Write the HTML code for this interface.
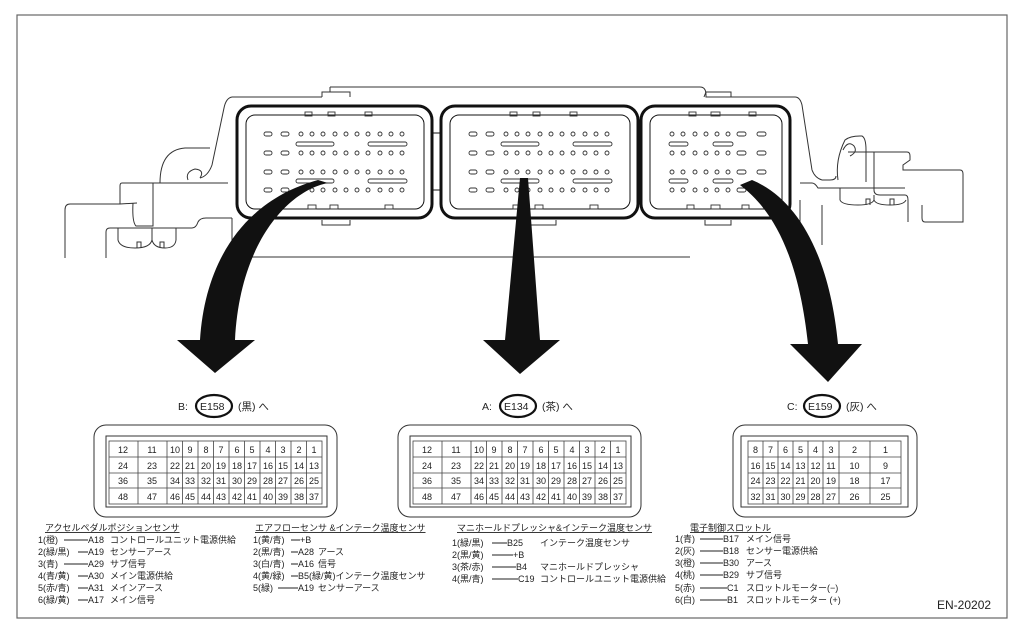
<!DOCTYPE html>
<html><head><meta charset="utf-8"><style>
html,body{margin:0;padding:0;background:#fff;}
svg{display:block}
text{font-family:"Liberation Sans","Noto Sans CJK JP",sans-serif;fill:#222}
</style></head><body>
<svg width="1024" height="630" viewBox="0 0 1024 630" xmlns="http://www.w3.org/2000/svg">
<defs>
<g id="pinrow">
<rect x="264" y="-2" width="8" height="4" rx="2"/><rect x="281" y="-2" width="8" height="4" rx="2"/>
<circle cx="301" cy="0" r="2"/><circle cx="312" cy="0" r="2"/><circle cx="323" cy="0" r="2"/><circle cx="335" cy="0" r="2"/><circle cx="346" cy="0" r="2"/><circle cx="357" cy="0" r="2"/><circle cx="368" cy="0" r="2"/><circle cx="380" cy="0" r="2"/><circle cx="391" cy="0" r="2"/><circle cx="402" cy="0" r="2"/>
</g>
<g id="rrow"><circle cx="672" cy="0" r="2"/><circle cx="683" cy="0" r="2"/><circle cx="695" cy="0" r="2"/><circle cx="706" cy="0" r="2"/><circle cx="717" cy="0" r="2"/><circle cx="728" cy="0" r="2"/><rect x="737" y="-2" width="9" height="4" rx="2"/><rect x="757" y="-2" width="9" height="4" rx="2"/></g>
<g id="connL">
<rect x="305" y="112" width="7" height="4"/><rect x="328" y="112" width="7" height="4"/><rect x="365" y="112" width="7" height="4"/>
<rect x="308" y="205" width="8" height="4"/><rect x="330" y="205" width="8" height="4"/><rect x="385" y="205" width="8" height="4"/>
<use href="#pinrow" y="134"/><use href="#pinrow" y="153"/><use href="#pinrow" y="172"/><use href="#pinrow" y="190"/>
<rect x="296" y="142" width="38" height="4" rx="2"/><rect x="368" y="142" width="39" height="4" rx="2"/>
<rect x="296" y="179" width="38" height="4" rx="2"/><rect x="368" y="179" width="39" height="4" rx="2"/>
</g>
</defs>
<rect x="17" y="15" width="990" height="603" fill="none" stroke="#666" stroke-width="1.2"/>
<g fill="none" stroke="#333" stroke-width="1">
<path d="M232 97 L322 97 M330 87 L700 87 Q706 87 706 95 L706 97 L795 97 Q800 97 802 105 L812 170 Q815 178 822 180"/>
<path d="M232 97 Q226 98 224 108 L212 165 Q208 176 200 178"/>
<path d="M245 257 L690 257 M232 218 L232 250 Q232 257 245 257"/>
<path d="M160 183 Q160 150 185 148 L210 148 M188 180 Q185 172 195 169 Q205 170 200 178"/>
<path d="M122 183 L228 183 M122 183 Q120 183 120 186 L120 204 L70 204 Q65 204 65 210 L65 258 M120 204 L137 203 M133 203 Q132 222 136 226 L153 226 L153 183"/>
<path d="M106 258 L106 232 Q106 228 110 228 L192 228 Q196 228 198 222 Q200 218 206 218 L232 218"/>
<path d="M118 228 L118 240 Q120 248 135 248 Q150 248 152 240 L152 228 M152 240 Q154 248 165 248 Q175 248 176 240 L176 228 M176 228 L176 240 M137 248 L137 242 L141 242 L141 248 M160 248 L160 242 L164 242 L164 248"/>
<path d="M822 180 L830 180 Q836 180 836 176 M838 180 Q835 160 845 140 Q850 136 860 136 L862 136 Q866 138 866 150 L866 182 M843 150 Q848 140 854 146 Q858 152 850 156"/>
<path d="M848 152 L874 152 L907 152 Q910 152 910 156 L910 160 L903 165 L903 170 L960 170 Q963 170 963 174 L963 222 L925 222 Q922 222 922 218 L922 205"/>
<path d="M874 152 L874 190 Q874 195 880 195 L905 195 Q908 195 908 200 L908 222 M800 183 L812 183 Q815 183 818 188 L905 188 M840 188 L840 200 Q842 205 858 205 Q872 205 874 200 L874 195 M874 200 Q876 205 890 205 Q904 205 906 200 M866 205 L866 199 L870 199 L870 205 M890 205 L890 199 L894 199 L894 205 M800 200 L800 230 Q800 240 790 245 L790 257 M822 205 L822 245"/>
<path d="M322 97 L322 92 L350 92 L350 97 M330 92 L330 87 M704 97 L706 92 L731 92 L731 97"/>
<path d="M322 220 L322 225 L350 225 L350 220 M530 220 L530 225 L556 225 L556 220 M705 220 L705 225 L731 225 L731 220"/>
</g>
<g fill="none" stroke="#111">
<rect x="237" y="106" width="195" height="112" rx="14" stroke-width="3"/>
<rect x="246" y="115" width="178" height="94" rx="9" stroke-width="1"/>
<rect x="441" y="106" width="197" height="112" rx="14" stroke-width="3"/>
<rect x="450" y="115" width="180" height="94" rx="9" stroke-width="1"/>
<rect x="641" y="106" width="149" height="112" rx="14" stroke-width="3"/>
<rect x="650" y="115" width="132" height="94" rx="9" stroke-width="1"/>
<path d="M432 133 L441 133 M432 190 L441 190 M638 133 L641 133 M638 190 L641 190" stroke-width="1"/>
</g>
<g fill="none" stroke="#333" stroke-width="0.9">
<use href="#connL"/>
<use href="#connL" x="205"/>
<rect x="689" y="112" width="7" height="4"/><rect x="711" y="112" width="9" height="4"/><rect x="749" y="112" width="7" height="4"/>
<rect x="687" y="205" width="7" height="4"/><rect x="711" y="205" width="9" height="4"/><rect x="742" y="205" width="7" height="4"/>
<use href="#rrow" y="134"/><use href="#rrow" y="153"/><use href="#rrow" y="172"/><use href="#rrow" y="190"/>
<rect x="669" y="142" width="19" height="4" rx="2"/><rect x="713" y="142" width="20" height="4" rx="2"/>
<rect x="669" y="179" width="19" height="4" rx="2"/><rect x="713" y="179" width="20" height="4" rx="2"/>
</g>
<g fill="#111">
<path d="M328 183 C290 190 240 240 235 340 L255 340 L215 373 L177 340 L200 340 C205 260 245 200 318 180 Z"/>
<path d="M528 178 L540 340 L560 340 L520 374 L483 340 L505 340 L520 178 Z"/>
<path d="M752 180 C800 200 830 260 838 344 L862 344 L828 382 L790 344 L808 344 C800 270 780 215 740 185 Z"/>
</g>
<g font-size="10.5">
<text x="178" y="410">B:</text><text x="200" y="410">E158</text><text x="238" y="410">(黒) へ</text>
<text x="482" y="410">A:</text><text x="504" y="410">E134</text><text x="542" y="410">(茶) へ</text>
<text x="787" y="410">C:</text><text x="808" y="410">E159</text><text x="846" y="410">(灰) へ</text>
</g>
<g fill="none" stroke="#111" stroke-width="2.2">
<ellipse cx="214" cy="406" rx="18" ry="11"/><ellipse cx="518" cy="406" rx="18" ry="11"/><ellipse cx="822" cy="406" rx="18" ry="11"/>
</g>
<g fill="none" stroke="#333" stroke-width="1">
<rect x="94" y="425" width="243" height="92" rx="12"/><rect x="106" y="436" width="221" height="71"/>
<rect x="398" y="425" width="243" height="92" rx="12"/><rect x="410" y="436" width="221" height="71"/>
<rect x="733" y="425" width="184" height="92" rx="12"/><rect x="741" y="436" width="167" height="71"/>
</g>
<g fill="none" stroke="#444" stroke-width="0.8">
<g id="grid48">
<rect x="109" y="441" width="213" height="63"/>
<path d="M109 457 H322 M109 473 H322 M109 488 H322 M138 441 V504 M167 441 V504 M182.5 441 V504 M198 441 V504 M213.5 441 V504 M229 441 V504 M244.5 441 V504 M260 441 V504 M275.5 441 V504 M291 441 V504 M306.5 441 V504"/>
</g>
<use href="#grid48" x="304"/>
<rect x="748" y="441" width="153" height="63"/>
<path d="M748 457 H901 M748 473 H901 M748 488 H901 M763 441 V504 M778 441 V504 M793 441 V504 M808 441 V504 M823 441 V504 M839 441 V504 M870 441 V504"/>
</g>
<g font-size="9" text-anchor="middle">
<g id="nums">
<text x="123" y="453">12</text><text x="152" y="453">11</text><text x="175" y="453">10</text><text x="190" y="453">9</text><text x="206" y="453">8</text><text x="221" y="453">7</text><text x="237" y="453">6</text><text x="252" y="453">5</text><text x="268" y="453">4</text><text x="283" y="453">3</text><text x="299" y="453">2</text><text x="314" y="453">1</text>
<text x="123" y="469">24</text><text x="152" y="469">23</text><text x="175" y="469">22</text><text x="190" y="469">21</text><text x="206" y="469">20</text><text x="221" y="469">19</text><text x="237" y="469">18</text><text x="252" y="469">17</text><text x="268" y="469">16</text><text x="283" y="469">15</text><text x="299" y="469">14</text><text x="314" y="469">13</text>
<text x="123" y="484">36</text><text x="152" y="484">35</text><text x="175" y="484">34</text><text x="190" y="484">33</text><text x="206" y="484">32</text><text x="221" y="484">31</text><text x="237" y="484">30</text><text x="252" y="484">29</text><text x="268" y="484">28</text><text x="283" y="484">27</text><text x="299" y="484">26</text><text x="314" y="484">25</text>
<text x="123" y="500">48</text><text x="152" y="500">47</text><text x="175" y="500">46</text><text x="190" y="500">45</text><text x="206" y="500">44</text><text x="221" y="500">43</text><text x="237" y="500">42</text><text x="252" y="500">41</text><text x="268" y="500">40</text><text x="283" y="500">39</text><text x="299" y="500">38</text><text x="314" y="500">37</text>
</g>
<g transform="translate(304,0)">
<text x="123" y="453">12</text><text x="152" y="453">11</text><text x="175" y="453">10</text><text x="190" y="453">9</text><text x="206" y="453">8</text><text x="221" y="453">7</text><text x="237" y="453">6</text><text x="252" y="453">5</text><text x="268" y="453">4</text><text x="283" y="453">3</text><text x="299" y="453">2</text><text x="314" y="453">1</text>
<text x="123" y="469">24</text><text x="152" y="469">23</text><text x="175" y="469">22</text><text x="190" y="469">21</text><text x="206" y="469">20</text><text x="221" y="469">19</text><text x="237" y="469">18</text><text x="252" y="469">17</text><text x="268" y="469">16</text><text x="283" y="469">15</text><text x="299" y="469">14</text><text x="314" y="469">13</text>
<text x="123" y="484">36</text><text x="152" y="484">35</text><text x="175" y="484">34</text><text x="190" y="484">33</text><text x="206" y="484">32</text><text x="221" y="484">31</text><text x="237" y="484">30</text><text x="252" y="484">29</text><text x="268" y="484">28</text><text x="283" y="484">27</text><text x="299" y="484">26</text><text x="314" y="484">25</text>
<text x="123" y="500">48</text><text x="152" y="500">47</text><text x="175" y="500">46</text><text x="190" y="500">45</text><text x="206" y="500">44</text><text x="221" y="500">43</text><text x="237" y="500">42</text><text x="252" y="500">41</text><text x="268" y="500">40</text><text x="283" y="500">39</text><text x="299" y="500">38</text><text x="314" y="500">37</text>
</g>
<text x="755.5" y="453">8</text><text x="770.5" y="453">7</text><text x="785.5" y="453">6</text><text x="800.5" y="453">5</text><text x="815.5" y="453">4</text><text x="831" y="453">3</text><text x="854.5" y="453">2</text><text x="885.5" y="453">1</text>
<text x="755.5" y="469">16</text><text x="770.5" y="469">15</text><text x="785.5" y="469">14</text><text x="800.5" y="469">13</text><text x="815.5" y="469">12</text><text x="831" y="469">11</text><text x="854.5" y="469">10</text><text x="885.5" y="469">9</text>
<text x="755.5" y="484">24</text><text x="770.5" y="484">23</text><text x="785.5" y="484">22</text><text x="800.5" y="484">21</text><text x="815.5" y="484">20</text><text x="831" y="484">19</text><text x="854.5" y="484">18</text><text x="885.5" y="484">17</text>
<text x="755.5" y="500">32</text><text x="770.5" y="500">31</text><text x="785.5" y="500">30</text><text x="800.5" y="500">29</text><text x="815.5" y="500">28</text><text x="831" y="500">27</text><text x="854.5" y="500">26</text><text x="885.5" y="500">25</text>
</g>
<g font-size="9">
<text x="45" y="531" text-decoration="underline">アクセルペダルポジションセンサ</text>
<text x="38" y="543">1(橙)</text><text x="88" y="543">A18</text><text x="110" y="543">コントロールユニット電源供給</text>
<text x="38" y="555">2(緑/黒)</text><text x="88" y="555">A19</text><text x="110" y="555">センサーアース</text>
<text x="38" y="567">3(青)</text><text x="88" y="567">A29</text><text x="110" y="567">サブ信号</text>
<text x="38" y="579">4(青/黄)</text><text x="88" y="579">A30</text><text x="110" y="579">メイン電源供給</text>
<text x="38" y="591">5(赤/青)</text><text x="88" y="591">A31</text><text x="110" y="591">メインアース</text>
<text x="38" y="603">6(緑/黄)</text><text x="88" y="603">A17</text><text x="110" y="603">メイン信号</text>
<text x="255" y="531" text-decoration="underline">エアフローセンサ &amp;インテーク温度センサ</text>
<text x="253" y="543">1(黄/青)</text><text x="300" y="543">+B</text>
<text x="253" y="555">2(黒/青)</text><text x="298" y="555">A28</text><text x="318" y="555">アース</text>
<text x="253" y="567">3(白/青)</text><text x="298" y="567">A16</text><text x="318" y="567">信号</text>
<text x="253" y="579">4(黄/緑)</text><text x="298" y="579">B5(緑/黄)インテーク温度センサ</text>
<text x="253" y="591">5(緑)</text><text x="298" y="591">A19</text><text x="318" y="591">センサーアース</text>
<text x="457" y="531" text-decoration="underline">マニホールドプレッシャ&amp;インテーク温度センサ</text>
<text x="452" y="546">1(緑/黒)</text><text x="507" y="546">B25</text><text x="540" y="546">インテーク温度センサ</text>
<text x="452" y="558">2(黒/黄)</text><text x="513" y="558">+B</text>
<text x="452" y="570">3(茶/赤)</text><text x="516" y="570">B4</text><text x="540" y="570">マニホールドプレッシャ</text>
<text x="452" y="582">4(黒/青)</text><text x="518" y="582">C19</text><text x="540" y="582">コントロールユニット電源供給</text>
<text x="690" y="531" text-decoration="underline">電子制御スロットル</text>
<text x="675" y="542">1(青)</text><text x="723" y="542">B17</text><text x="746" y="542">メイン信号</text>
<text x="675" y="554">2(灰)</text><text x="723" y="554">B18</text><text x="746" y="554">センサー電源供給</text>
<text x="675" y="566">3(橙)</text><text x="723" y="566">B30</text><text x="746" y="566">アース</text>
<text x="675" y="578">4(桃)</text><text x="723" y="578">B29</text><text x="746" y="578">サブ信号</text>
<text x="675" y="591">5(赤)</text><text x="727" y="591">C1</text><text x="746" y="591">スロットルモーター(−)</text>
<text x="675" y="603">6(白)</text><text x="727" y="603">B1</text><text x="746" y="603">スロットルモーター (+)</text>
</g>
<g stroke="#222" stroke-width="0.9">
<path d="M64 540 H88 M78 552 H88 M64 564 H88 M78 576 H88 M78 588 H88 M78 600 H88"/>
<path d="M291 540 H300 M291 552 H298 M291 564 H298 M291 576 H298 M278 588 H298"/>
<path d="M492 543 H507 M492 555 H513 M492 567 H516 M492 579 H518"/>
<path d="M700 539 H723 M700 551 H723 M700 563 H723 M700 575 H723 M700 588 H727 M700 600 H727"/>
</g>
<text x="937" y="609" font-size="12">EN-20202</text>
</svg>
</body></html>
